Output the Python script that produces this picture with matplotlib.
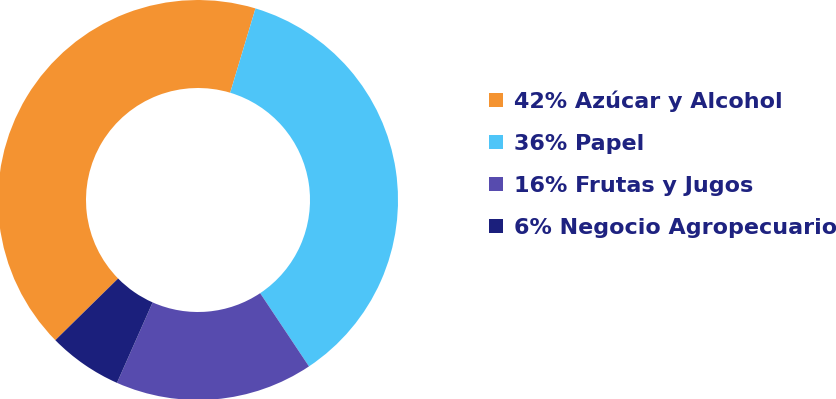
import matplotlib
matplotlib.use("Agg")
import matplotlib.pyplot as plt

# Participación por negocio
etiquetas = ["Azúcar y Alcohol", "Papel", "Frutas y Jugos", "Negocio Agropecuario"]
porcentajes = [42, 36, 16, 6]
colores = ["#F49331", "#4EC5F8", "#574BAE", "#1B1F7C"]

fig = plt.figure(figsize=(8.36, 3.99), dpi=100)
ax = fig.add_axes([0, 0, 1, 1])

wedges, _ = ax.pie(porcentajes, colors=colores, center=(198, 199), radius=200,
                   startangle=-135.5, counterclock=False,
                   wedgeprops=dict(width=88, edgecolor="none"), frame=True)
ax.set_xlim(0, 836)
ax.set_ylim(0, 399)
ax.set_aspect("equal")
ax.axis("off")

rotulos = [f"{p}% {e}" for p, e in zip(porcentajes, etiquetas)]
leg = fig.legend(wedges, rotulos, loc="center left",
                 bbox_to_anchor=(489 / 836, 1 - 164 / 399),
                 frameon=False, borderpad=0, borderaxespad=0,
                 handlelength=0.62, handleheight=0.62, handletextpad=0.5,
                 labelspacing=0.99,
                 prop=dict(family="DejaVu Sans", weight="bold", size=16))
for t in leg.get_texts():
    t.set_color("#1E2280")

fig.savefig("out.png", dpi=100)
